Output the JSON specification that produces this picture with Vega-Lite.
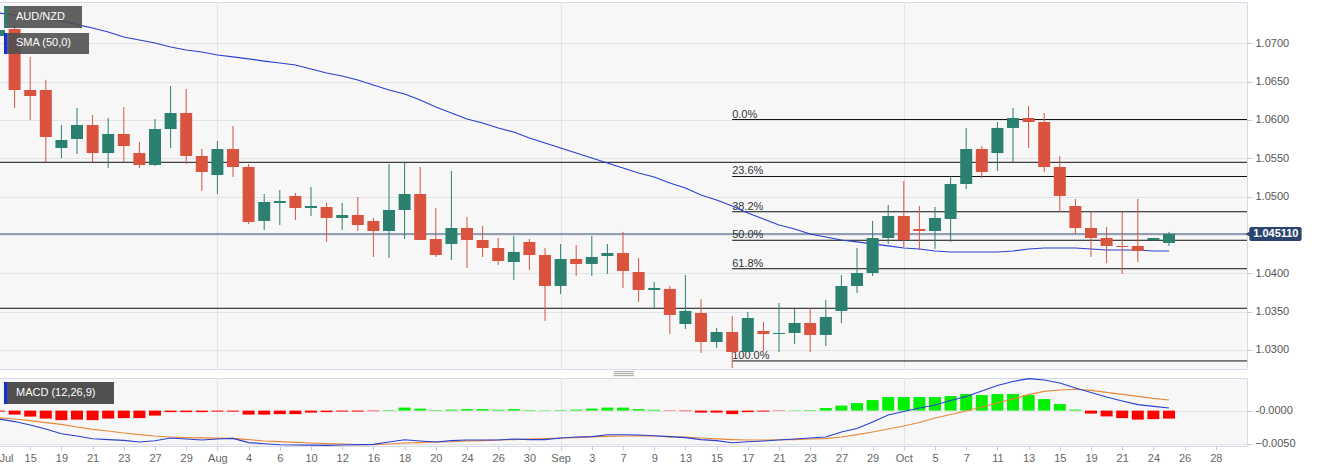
{
"$schema":"https://vega.github.io/schema/vega-lite/v6.json",
"padding":{"left":-4,"top":1,"right":0,"bottom":0},
"background":"white",
"spacing":9,
"bounds":"flush",
"config":{"view":{"fill":"#f7f7f8","stroke":"#d6d9e8","strokeWidth":1},"font":"Liberation Sans","scale":{"continuousPadding":0}},
"datasets":{"bars":[
{"i":0,"open":1.07095,"high":1.07291,"low":1.0703,"close":1.07174,"sma":1.07395,"macd":-0.00126,"signal":-0.00107,"hist":-0.00015},
{"i":1,"open":1.07187,"high":1.07265,"low":1.06156,"close":1.06391,"sma":1.07369,"macd":-0.00164,"signal":-0.00126,"hist":-0.0006},
{"i":2,"open":1.06391,"high":1.06822,"low":1.06,"close":1.06313,"sma":1.0735,"macd":-0.00216,"signal":-0.00149,"hist":-0.0009},
{"i":3,"open":1.06391,"high":1.06522,"low":1.05452,"close":1.05778,"sma":1.07317,"macd":-0.00276,"signal":-0.00179,"hist":-0.0012},
{"i":4,"open":1.05635,"high":1.05935,"low":1.05504,"close":1.05739,"sma":1.07291,"macd":-0.00347,"signal":-0.00206,"hist":-0.00143},
{"i":5,"open":1.05752,"high":1.06156,"low":1.05556,"close":1.05935,"sma":1.07245,"macd":-0.00381,"signal":-0.00246,"hist":-0.00135},
{"i":6,"open":1.05935,"high":1.06065,"low":1.05452,"close":1.05569,"sma":1.072,"macd":-0.00422,"signal":-0.00281,"hist":-0.00143},
{"i":7,"open":1.05569,"high":1.06026,"low":1.05374,"close":1.05817,"sma":1.07148,"macd":-0.00434,"signal":-0.00306,"hist":-0.0012},
{"i":8,"open":1.05817,"high":1.06169,"low":1.05452,"close":1.05661,"sma":1.07082,"macd":-0.00446,"signal":-0.00336,"hist":-0.00113},
{"i":9,"open":1.05569,"high":1.05713,"low":1.05374,"close":1.05413,"sma":1.07043,"macd":-0.00471,"signal":-0.00359,"hist":-0.00113},
{"i":10,"open":1.05413,"high":1.06013,"low":1.054,"close":1.05882,"sma":1.07004,"macd":-0.00452,"signal":-0.00381,"hist":-0.00075},
{"i":11,"open":1.05882,"high":1.06443,"low":1.05635,"close":1.06091,"sma":1.06952,"macd":-0.00411,"signal":-0.00396,"hist":-0.00023},
{"i":12,"open":1.06091,"high":1.06404,"low":1.05426,"close":1.0553,"sma":1.06913,"macd":-0.00426,"signal":-0.00404,"hist":-0.00023},
{"i":13,"open":1.0553,"high":1.05622,"low":1.05074,"close":1.05322,"sma":1.06887,"macd":-0.00441,"signal":-0.00408,"hist":-0.00023},
{"i":14,"open":1.05282,"high":1.05726,"low":1.05035,"close":1.05622,"sma":1.06848,"macd":-0.00426,"signal":-0.00414,"hist":-0.00015},
{"i":15,"open":1.05622,"high":1.05922,"low":1.05256,"close":1.05387,"sma":1.06822,"macd":-0.00416,"signal":-0.00417,"hist":-0.00015},
{"i":16,"open":1.05387,"high":1.05426,"low":1.04643,"close":1.0467,"sma":1.06796,"macd":-0.00479,"signal":-0.00434,"hist":-0.0006},
{"i":17,"open":1.04683,"high":1.05035,"low":1.04565,"close":1.0493,"sma":1.06769,"macd":-0.00497,"signal":-0.00456,"hist":-0.0006},
{"i":18,"open":1.04917,"high":1.05087,"low":1.0463,"close":1.04943,"sma":1.06743,"macd":-0.00512,"signal":-0.00464,"hist":-0.00053},
{"i":19,"open":1.05009,"high":1.05048,"low":1.04696,"close":1.04852,"sma":1.06717,"macd":-0.00516,"signal":-0.00476,"hist":-0.00053},
{"i":20,"open":1.04852,"high":1.05126,"low":1.04748,"close":1.04878,"sma":1.06665,"macd":-0.00519,"signal":-0.00486,"hist":-0.0003},
{"i":21,"open":1.04865,"high":1.04917,"low":1.04409,"close":1.04722,"sma":1.06613,"macd":-0.00521,"signal":-0.00495,"hist":-0.00023},
{"i":22,"open":1.04722,"high":1.04917,"low":1.04565,"close":1.04761,"sma":1.06574,"macd":-0.00516,"signal":-0.00501,"hist":-0.00015},
{"i":23,"open":1.04761,"high":1.04996,"low":1.04552,"close":1.0463,"sma":1.06522,"macd":-0.00509,"signal":-0.00509,"hist":-0.00015},
{"i":24,"open":1.04683,"high":1.04722,"low":1.04213,"close":1.04552,"sma":1.06456,"macd":-0.00506,"signal":-0.00512,"hist":-0.00008},
{"i":25,"open":1.04552,"high":1.05426,"low":1.042,"close":1.04826,"sma":1.06391,"macd":-0.00471,"signal":-0.00501,"hist":0.00008},
{"i":26,"open":1.04826,"high":1.05439,"low":1.04448,"close":1.05035,"sma":1.06339,"macd":-0.00437,"signal":-0.00486,"hist":0.00045},
{"i":27,"open":1.05035,"high":1.05387,"low":1.04435,"close":1.04435,"sma":1.06261,"macd":-0.00456,"signal":-0.00479,"hist":0.0003},
{"i":28,"open":1.04448,"high":1.04852,"low":1.04213,"close":1.04239,"sma":1.06169,"macd":-0.00471,"signal":-0.00471,"hist":0.00008},
{"i":29,"open":1.04383,"high":1.05335,"low":1.04174,"close":1.04591,"sma":1.06091,"macd":-0.00449,"signal":-0.00467,"hist":0.00015},
{"i":30,"open":1.04591,"high":1.04735,"low":1.0407,"close":1.04435,"sma":1.06013,"macd":-0.00441,"signal":-0.00456,"hist":0.00023},
{"i":31,"open":1.04435,"high":1.04617,"low":1.04213,"close":1.0433,"sma":1.05961,"macd":-0.00441,"signal":-0.00449,"hist":0.00023},
{"i":32,"open":1.0433,"high":1.04461,"low":1.04109,"close":1.04161,"sma":1.05896,"macd":-0.00441,"signal":-0.00441,"hist":0.00012},
{"i":33,"open":1.04148,"high":1.04487,"low":1.03913,"close":1.04278,"sma":1.05843,"macd":-0.00426,"signal":-0.00434,"hist":0.00023},
{"i":34,"open":1.04409,"high":1.04448,"low":1.04043,"close":1.04239,"sma":1.05765,"macd":-0.00434,"signal":-0.00426,"hist":0.00008},
{"i":35,"open":1.04239,"high":1.0433,"low":1.03378,"close":1.03835,"sma":1.057,"macd":-0.00434,"signal":-0.00419,"hist":0.00005},
{"i":36,"open":1.03835,"high":1.04383,"low":1.0373,"close":1.04187,"sma":1.05635,"macd":-0.00411,"signal":-0.00411,"hist":0.00008},
{"i":37,"open":1.04187,"high":1.0437,"low":1.03965,"close":1.04122,"sma":1.05569,"macd":-0.00396,"signal":-0.00404,"hist":0.00015},
{"i":38,"open":1.04122,"high":1.04487,"low":1.03965,"close":1.04213,"sma":1.05504,"macd":-0.00389,"signal":-0.00393,"hist":0.0003},
{"i":39,"open":1.04226,"high":1.04383,"low":1.03991,"close":1.04265,"sma":1.05439,"macd":-0.00362,"signal":-0.00386,"hist":0.00045},
{"i":40,"open":1.04265,"high":1.04539,"low":1.03809,"close":1.0403,"sma":1.05374,"macd":-0.00362,"signal":-0.00381,"hist":0.00045},
{"i":41,"open":1.04017,"high":1.042,"low":1.03626,"close":1.03783,"sma":1.05309,"macd":-0.00366,"signal":-0.00377,"hist":0.00023},
{"i":42,"open":1.03783,"high":1.03887,"low":1.03535,"close":1.03809,"sma":1.05256,"macd":-0.00377,"signal":-0.00381,"hist":0.00012},
{"i":43,"open":1.03796,"high":1.03835,"low":1.03209,"close":1.03457,"sma":1.05178,"macd":-0.00389,"signal":-0.00393,"hist":-0.00005},
{"i":44,"open":1.03339,"high":1.03978,"low":1.03274,"close":1.03509,"sma":1.05113,"macd":-0.00404,"signal":-0.00399,"hist":-0.00008},
{"i":45,"open":1.03483,"high":1.03665,"low":1.02961,"close":1.03104,"sma":1.05022,"macd":-0.00434,"signal":-0.00411,"hist":-0.0003},
{"i":46,"open":1.03104,"high":1.03287,"low":1.03026,"close":1.03235,"sma":1.04956,"macd":-0.00449,"signal":-0.00423,"hist":-0.0003},
{"i":47,"open":1.03235,"high":1.03444,"low":1.02765,"close":1.02974,"sma":1.04878,"macd":-0.00482,"signal":-0.00434,"hist":-0.00053},
{"i":48,"open":1.02974,"high":1.03496,"low":1.02974,"close":1.03417,"sma":1.04787,"macd":-0.00467,"signal":-0.00441,"hist":-0.00023},
{"i":49,"open":1.03248,"high":1.03365,"low":1.02987,"close":1.03209,"sma":1.04709,"macd":-0.00456,"signal":-0.00441,"hist":-0.00015},
{"i":50,"open":1.03209,"high":1.03613,"low":1.02974,"close":1.03222,"sma":1.0463,"macd":-0.00441,"signal":-0.00437,"hist":-0.00005},
{"i":51,"open":1.03222,"high":1.03535,"low":1.03078,"close":1.03352,"sma":1.04578,"macd":-0.00426,"signal":-0.00434,"hist":0.00005},
{"i":52,"open":1.03352,"high":1.03548,"low":1.02974,"close":1.03196,"sma":1.04513,"macd":-0.00411,"signal":-0.00426,"hist":0.00008},
{"i":53,"open":1.03196,"high":1.03652,"low":1.03052,"close":1.03431,"sma":1.04474,"macd":-0.00396,"signal":-0.00419,"hist":0.00038},
{"i":54,"open":1.03509,"high":1.03978,"low":1.03352,"close":1.03835,"sma":1.04435,"macd":-0.00321,"signal":-0.00396,"hist":0.00075},
{"i":55,"open":1.03835,"high":1.0433,"low":1.03743,"close":1.04004,"sma":1.04409,"macd":-0.00269,"signal":-0.00359,"hist":0.00113},
{"i":56,"open":1.04004,"high":1.04683,"low":1.03965,"close":1.04461,"sma":1.04383,"macd":-0.00171,"signal":-0.00321,"hist":0.00158},
{"i":57,"open":1.04461,"high":1.04891,"low":1.04383,"close":1.04748,"sma":1.04357,"macd":-0.00066,"signal":-0.00276,"hist":0.00203},
{"i":58,"open":1.04748,"high":1.05204,"low":1.04343,"close":1.04435,"sma":1.0433,"macd":-0.00014,"signal":-0.00231,"hist":0.00203},
{"i":59,"open":1.04578,"high":1.04878,"low":1.04304,"close":1.04552,"sma":1.04317,"macd":0.00039,"signal":-0.00179,"hist":0.00203},
{"i":60,"open":1.04552,"high":1.04865,"low":1.04317,"close":1.04722,"sma":1.04291,"macd":0.00084,"signal":-0.00111,"hist":0.00203},
{"i":61,"open":1.04709,"high":1.05256,"low":1.04409,"close":1.05165,"sma":1.04278,"macd":0.00152,"signal":-0.00059,"hist":0.00218},
{"i":62,"open":1.05165,"high":1.05896,"low":1.051,"close":1.05622,"sma":1.04278,"macd":0.00212,"signal":-0.00006,"hist":0.00248},
{"i":63,"open":1.05622,"high":1.05661,"low":1.05243,"close":1.05322,"sma":1.04278,"macd":0.00294,"signal":0.00054,"hist":0.00233},
{"i":64,"open":1.05569,"high":1.05974,"low":1.05335,"close":1.05896,"sma":1.04278,"macd":0.00377,"signal":0.00114,"hist":0.00248},
{"i":65,"open":1.05896,"high":1.06156,"low":1.05452,"close":1.06026,"sma":1.04291,"macd":0.00437,"signal":0.00174,"hist":0.00248},
{"i":66,"open":1.06026,"high":1.06182,"low":1.05635,"close":1.05974,"sma":1.04317,"macd":0.00479,"signal":0.00239,"hist":0.00233},
{"i":67,"open":1.05974,"high":1.06091,"low":1.05322,"close":1.05387,"sma":1.0433,"macd":0.00459,"signal":0.00287,"hist":0.00173},
{"i":68,"open":1.05387,"high":1.0553,"low":1.048,"close":1.05009,"sma":1.0433,"macd":0.00414,"signal":0.00309,"hist":0.00098},
{"i":69,"open":1.04878,"high":1.0497,"low":1.04513,"close":1.04591,"sma":1.0433,"macd":0.00339,"signal":0.0032,"hist":0.00015},
{"i":70,"open":1.04591,"high":1.048,"low":1.04213,"close":1.04461,"sma":1.04317,"macd":0.00272,"signal":0.00302,"hist":-0.00045},
{"i":71,"open":1.04461,"high":1.04604,"low":1.04135,"close":1.04357,"sma":1.04304,"macd":0.00204,"signal":0.00272,"hist":-0.00087},
{"i":72,"open":1.04357,"high":1.048,"low":1.03991,"close":1.04343,"sma":1.04304,"macd":0.00144,"signal":0.00242,"hist":-0.00113},
{"i":73,"open":1.04357,"high":1.0497,"low":1.04148,"close":1.04291,"sma":1.04304,"macd":0.00089,"signal":0.00212,"hist":-0.00135},
{"i":74,"open":1.04435,"high":1.04461,"low":1.04422,"close":1.04461,"sma":1.04291,"macd":0.00062,"signal":0.00182,"hist":-0.00128},
{"i":75,"open":1.04396,"high":1.04539,"low":1.04357,"close":1.04513,"sma":1.04291,"macd":0.00039,"signal":0.00159,"hist":-0.0012}
]},
"vconcat":[
{"width":1248,"height":367,
"encoding":{
"x":{"type":"quantitative","title":null,"scale":{"domain":[0,80],"nice":false,"zero":false,"padding":0},"axis":{"values":[14,36,58],"labels":false,"ticks":false,"domain":false,"grid":true,"gridColor":"#e4e4e8","title":null}},
"y":{"type":"quantitative","title":null,"scale":{"domain":[1.02752,1.07539],"nice":false,"zero":false},"axis":{"orient":"right","values":[1.03,1.035,1.04,1.045,1.05,1.055,1.06,1.065,1.07],"grid":true,"gridColor":"#e4e4e8","domain":false,"tickColor":"#c5c9de","tickSize":5,"labelColor":"#555555","labelFontSize":11,"labelPadding":3,"title":null,"labelExpr":"abs(datum.value-1.045)<0.0001?'':format(datum.value,'.4f')"}}
},
"layer":[
{"data":{"values":[{"price":1.05448,"from":0,"to":80},{"price":1.03544,"from":0,"to":80}]},"mark":{"type":"rule","color":"#111111","strokeWidth":1},"encoding":{"y":{"field":"price"},"x":{"field":"from"},"x2":{"field":"to"}}},
{"data":{"values":[{"price":1.04513,"from":0,"to":80}]},"mark":{"type":"rule","color":"#2b4570","strokeWidth":1},"encoding":{"y":{"field":"price"},"x":{"field":"from"},"x2":{"field":"to"}}},
{"data":{"values":[{"level":"0.0%","price":1.06006,"from":47,"to":80},{"level":"23.6%","price":1.05263,"from":47,"to":80},{"level":"38.2%","price":1.04803,"from":47,"to":80},{"level":"50.0%","price":1.04431,"from":47,"to":80},{"level":"61.8%","price":1.0406,"from":47,"to":80},{"level":"100.0%","price":1.02857,"from":47,"to":80}]},
 "layer":[
 {"mark":{"type":"rule","color":"#111111","strokeWidth":1},"encoding":{"y":{"field":"price"},"x":{"field":"from"},"x2":{"field":"to"}}},
 {"mark":{"type":"text","align":"left","baseline":"bottom","dy":0,"fontSize":11,"color":"#333333"},"encoding":{"y":{"field":"price"},"x":{"field":"from"},"text":{"field":"level","type":"nominal"}}}
 ]},
{"data":{"name":"bars"},"mark":{"type":"line","color":"#2a40cf","strokeWidth":1.2,"clip":true},"encoding":{"x":{"field":"i"},"y":{"field":"sma"}}},
{"data":{"name":"bars"},"mark":{"type":"rule","strokeWidth":1,"clip":true},"encoding":{"x":{"field":"i"},"y":{"field":"low"},"y2":{"field":"high"},"color":{"condition":{"test":"datum.close<datum.open","value":"#d4543f"},"value":"#2b8070"}}},
{"data":{"name":"bars"},"mark":{"type":"bar","size":12,"clip":true},"encoding":{"x":{"field":"i"},"y":{"field":"open"},"y2":{"field":"close"},"color":{"condition":{"test":"datum.close<datum.open","value":"#d9533f"},"value":"#2b8070"}}},
{"data":{"values":[{"label":"AUD/NZD","left":0.32,"right":5.32,"sw":0.51,"tx":1.09,"top":1.07487,"bottom":1.072,"mid":1.07343,"swatch":"#2b8070"},{"label":"SMA (50,0)","left":0.32,"right":5.77,"sw":0.51,"tx":1.09,"top":1.07135,"bottom":1.06861,"mid":1.07,"swatch":"#1030e0"}]},
 "layer":[
 {"mark":{"type":"rect","fill":"#505050","opacity":0.9},"encoding":{"x":{"field":"left"},"x2":{"field":"right"},"y":{"field":"top"},"y2":{"field":"bottom"}}},
 {"mark":{"type":"rect"},"encoding":{"x":{"field":"left"},"x2":{"field":"sw"},"y":{"field":"top"},"y2":{"field":"bottom"},"color":{"field":"swatch","type":"nominal","scale":null}}},
 {"mark":{"type":"text","align":"left","baseline":"middle","fontSize":11,"color":"white"},"encoding":{"x":{"field":"tx"},"y":{"field":"mid"},"text":{"field":"label","type":"nominal"}}}
 ]},
{"data":{"values":[{"label":"1.045110","price":1.04513,"top":1.04604,"bottom":1.04422,"x0":80.15,"x1":83.5,"tip":80.1,"tx":81.85}]},
 "layer":[
 {"mark":{"type":"rect","fill":"#2b4570","cornerRadius":2},"encoding":{"x":{"field":"x0"},"x2":{"field":"x1"},"y":{"field":"top"},"y2":{"field":"bottom"}}},
 {"mark":{"type":"point","shape":"triangle-left","filled":true,"size":50,"color":"#2b4570","opacity":1},"encoding":{"x":{"field":"tip"},"y":{"field":"price"}}},
 {"mark":{"type":"text","align":"center","baseline":"middle","fontSize":11,"fontWeight":"bold","color":"white"},"encoding":{"x":{"field":"tx"},"y":{"field":"price"},"text":{"field":"label","type":"nominal"}}}
 ]},
{"data":{"values":[{"price":1.02717,"from":39.4,"to":40.7},{"price":1.02691,"from":39.4,"to":40.7},{"price":1.02665,"from":39.4,"to":40.7}]},"mark":{"type":"rule","color":"#888888","strokeWidth":0.8},"encoding":{"y":{"field":"price"},"x":{"field":"from"},"x2":{"field":"to"}}}
]},
{"width":1248,"height":68,
"data":{"name":"bars"},
"encoding":{
"x":{"type":"quantitative","title":null,"scale":{"domain":[0,80],"nice":false,"zero":false,"padding":0},"axis":{"values":[0,2,4,6,8,10,12,14,16,18,20,22,24,26,28,30,32,34,36,38,40,42,44,46,48,50,52,54,56,58,60,62,64,66,68,70,72,74,76,78],"labelExpr":"['Jul','15','19','21','23','27','29','Aug','4','6','10','12','16','18','20','24','26','30','Sep','3','7','9','13','15','17','21','23','27','29','Oct','5','7','11','13','15','19','21','24','26','28'][datum.value/2]","labelAlign":{"condition":{"test":"datum.value==0","value":"left"},"value":"center"},"labelColor":"#666666","labelFontSize":11,"labelPadding":2,"tickSize":4,"tickColor":"#c5c9de","domain":false,"grid":true,"gridColor":"#e4e4e8","gridOpacity":{"condition":{"test":"datum.value==14||datum.value==36||datum.value==58","value":1},"value":0},"title":null}},
"y":{"type":"quantitative","title":null,"scale":{"domain":[-0.00531,0.00489],"nice":false,"zero":false},"axis":{"orient":"right","values":[0,-0.005],"labelExpr":"datum.value==0?'-0.0000':format(datum.value,'.4f')","grid":true,"gridColor":"#e4e4e8","domain":false,"tickColor":"#c5c9de","tickSize":5,"labelColor":"#555555","labelFontSize":11,"labelPadding":3,"title":null}}
},
"layer":[
{"mark":{"type":"bar","size":12,"clip":true},"encoding":{"x":{"field":"i"},"y":{"field":"hist"},"y2":{"datum":0},"color":{"condition":{"test":"datum.hist<0","value":"#ff0000"},"value":"#00f000"}}},
{"mark":{"type":"line","color":"#e8893a","strokeWidth":1.2},"encoding":{"x":{"field":"i"},"y":{"field":"signal"}}},
{"mark":{"type":"line","color":"#2a40cf","strokeWidth":1.2},"encoding":{"x":{"field":"i"},"y":{"field":"macd"}}},
{"data":{"values":[{"label":"MACD (12,26,9)","left":0.32,"right":7.37,"sw":0.51,"tx":1.09,"top":0.00429,"bottom":0.00099,"mid":0.00264}]},
 "layer":[
 {"mark":{"type":"rect","fill":"#505050"},"encoding":{"x":{"field":"left"},"x2":{"field":"right"},"y":{"field":"top"},"y2":{"field":"bottom"}}},
 {"mark":{"type":"rect","fill":"#1030e0"},"encoding":{"x":{"field":"left"},"x2":{"field":"sw"},"y":{"field":"top"},"y2":{"field":"bottom"}}},
 {"mark":{"type":"text","align":"left","baseline":"middle","fontSize":11,"color":"white"},"encoding":{"x":{"field":"tx"},"y":{"field":"mid"},"text":{"field":"label","type":"nominal"}}}
 ]}
]}
]}
